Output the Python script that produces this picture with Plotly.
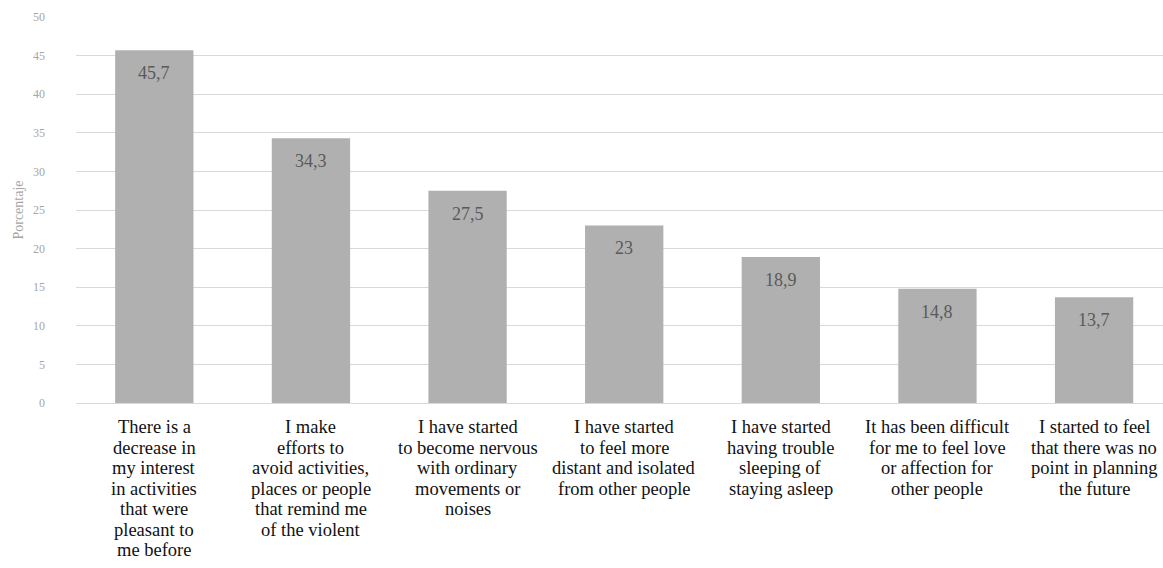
import plotly.graph_objects as go

category_lines = [
    ["There is a", "decrease in", "my interest", "in activities", "that were", "pleasant to", "me before"],
    ["I make", "efforts to", "avoid activities,", "places or people", "that remind me", "of the violent"],
    ["I have started", "to become nervous", "with ordinary", "movements or", "noises"],
    ["I have started", "to feel more", "distant and isolated", "from other people"],
    ["I have started", "having trouble", "sleeping of", "staying asleep"],
    ["It has been difficult", "for me to feel love", "or affection for", "other people"],
    ["I started to feel", "that there was no", "point in planning", "the future"],
]
values = [45.7, 34.3, 27.5, 23, 18.9, 14.8, 13.7]
value_labels = ["45,7", "34,3", "27,5", "23", "18,9", "14,8", "13,7"]
y_ticks = [0, 5, 10, 15, 20, 25, 30, 35, 40, 45, 50]

SERIF = "Times New Roman, Liberation Serif, serif"
xs = list(range(len(category_lines)))

fig = go.Figure(go.Bar(
    x=xs,
    y=values,
    marker=dict(color="#b0b0b0", line=dict(width=0)),
    width=0.5,
    hoverinfo="skip",
))

# value labels inside top of bars
for x, v, lab in zip(xs, values, value_labels):
    fig.add_annotation(
        x=x, y=v, text=lab, showarrow=False, yanchor="middle", yshift=-23,
        font=dict(family=SERIF, size=18, color="#5a5a5a"),
    )

# category labels, one annotation per line for tight line spacing
LINE_PITCH = 20.5
for x, lines in zip(xs, category_lines):
    for k, line in enumerate(lines):
        fig.add_annotation(
            x=x, xref="x", y=0, yref="paper", text=line, showarrow=False,
            yanchor="middle", xanchor="center", yshift=-24 - k * LINE_PITCH,
            font=dict(family=SERIF, size=18.5, color="#111111"),
        )

fig.update_layout(
    width=1163, height=568,
    margin=dict(l=76, r=0, t=17, b=165),
    plot_bgcolor="white", paper_bgcolor="white",
    showlegend=False,
    font=dict(family=SERIF),
)
fig.update_xaxes(
    range=[-0.5, 6.44],
    showticklabels=False,
    showline=True, linecolor="#d9d9d9", linewidth=1,
    showgrid=False, ticks="",
)
fig.update_yaxes(
    range=[0, 50],
    tickvals=y_ticks,
    tickfont=dict(family=SERIF, size=12, color="#a6a6a6"),
    gridcolor="#d9d9d9", gridwidth=1,
    zeroline=False,
    ticks="", ticklabelstandoff=30,
    title=dict(text="Porcentaje", font=dict(family=SERIF, size=14, color="#a6a6a6"), standoff=6),
)

fig.write_html("out.html")
